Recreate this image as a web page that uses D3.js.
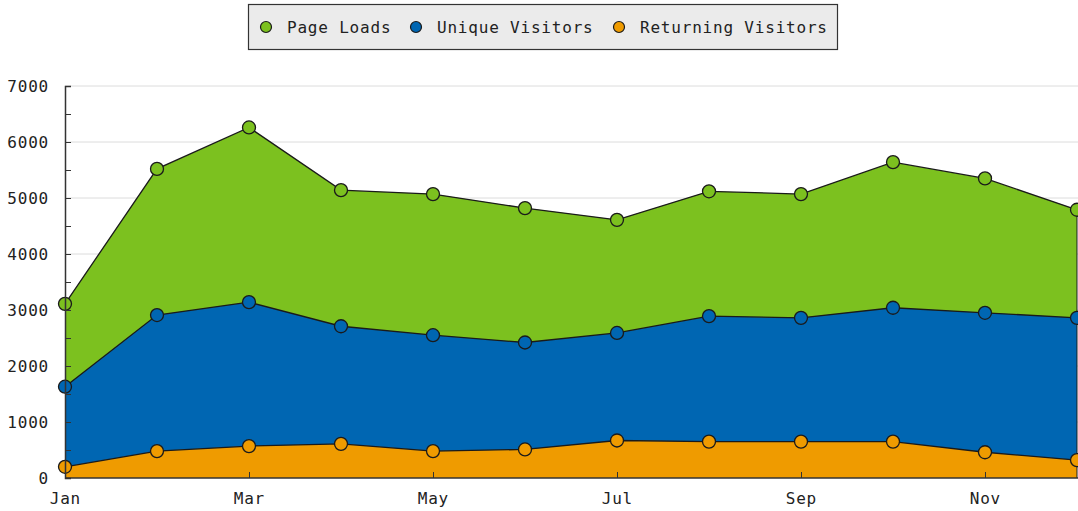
<!DOCTYPE html>
<html>
<head>
<meta charset="utf-8">
<script src="https://cdn.jsdelivr.net/npm/d3@7"></script>
<style>
  body { margin: 0; background: #fff; }
  svg { display: block; }
  text { font-family: "DejaVu Sans Mono", monospace; fill: #222; font-size: 16px; letter-spacing: 0.8px; }
</style>
</head>
<body>
<svg id="chart" width="1078" height="511"></svg>
<script>
const months = ['Jan', 'Feb', 'Mar', 'Apr', 'May', 'Jun', 'Jul', 'Aug', 'Sep', 'Oct', 'Nov', 'Dec'];
const pageLoads = [3110, 5520, 6260, 5140, 5070, 4820, 4610, 5120, 5070, 5640, 5350, 4790];
const uniqueVisitors = [1630, 2910, 3140, 2710, 2550, 2420, 2590, 2890, 2860, 3040, 2950, 2860];
const returningVisitors = [200, 480, 570, 610, 480, 510, 670, 650, 650, 650, 460, 320];
const yTicks = [0, 1000, 2000, 3000, 4000, 5000, 6000, 7000];
const xTickLabels = ['Jan', 'Mar', 'May', 'Jul', 'Sep', 'Nov'];

const series = [
    { name: 'Page Loads', values: pageLoads, color: '#7cc11f' },
    { name: 'Unique Visitors', values: uniqueVisitors, color: '#0066b2' },
    { name: 'Returning Visitors', values: returningVisitors, color: '#ef9b00' },
];

const svg = d3.select('#chart');
const plotLeft = 65, plotRight = 1077, plotTop = 86, plotBottom = 478;

const x = d3.scalePoint().domain(months).range([plotLeft, plotRight]);
const y = d3.scaleLinear().domain([0, 7000]).range([plotBottom, plotTop]);

// grid
svg.append('g')
    .selectAll('line')
    .data(yTicks.slice(1))
    .join('line')
    .attr('x1', plotLeft).attr('x2', 1078)
    .attr('y1', d => y(d)).attr('y2', d => y(d))
    .attr('stroke', '#dcdcdc')
    .attr('stroke-width', 1);

// areas
const area = d3.area()
    .x((d, i) => x(months[i]))
    .y0(y(0))
    .y1(d => y(d));

const line = d3.line()
    .x((d, i) => x(months[i]))
    .y(d => y(d));

series.forEach(s => {
    svg.append('path')
        .datum(s.values)
        .attr('d', area)
        .attr('fill', s.color);
    svg.append('path')
        .datum(s.values)
        .attr('d', line)
        .attr('fill', 'none')
        .attr('stroke', '#1a1a1a')
        .attr('stroke-width', 1.3);
});

// right edge outline
svg.append('line')
    .attr('x1', plotRight).attr('x2', plotRight)
    .attr('y1', y(pageLoads[pageLoads.length - 1])).attr('y2', plotBottom)
    .attr('stroke', '#1a1a1a');

// markers
series.forEach(s => {
    svg.append('g')
        .selectAll('circle')
        .data(s.values)
        .join('circle')
        .attr('cx', (d, i) => x(months[i]))
        .attr('cy', d => y(d))
        .attr('r', 6.5)
        .attr('fill', s.color)
        .attr('stroke', '#1a1a1a')
        .attr('stroke-width', 1.3);
});

// y axis
const yAxis = d3.axisRight(y)
    .tickValues(d3.range(0, 7001, 500))
    .tickSize(6)
    .tickFormat('');
const yg = svg.append('g').attr('transform', `translate(${plotLeft},0)`).call(yAxis);
yg.select('.domain').attr('stroke', '#333').attr('stroke-width', 1.5);
yg.selectAll('.tick line').attr('stroke', '#333');

svg.append('g')
    .selectAll('text')
    .data(yTicks)
    .join('text')
    .attr('x', 49)
    .attr('y', d => y(d) + 6)
    .attr('text-anchor', 'end')
    .text(d => d);

// x axis
const xAxis = d3.axisTop(x)
    .tickValues(xTickLabels)
    .tickSize(6)
    .tickFormat('');
const xg = svg.append('g').attr('transform', `translate(0,${plotBottom})`).call(xAxis);
xg.select('.domain').attr('d', `M${plotLeft},0H1078`).attr('stroke', '#333').attr('stroke-width', 1.5);
xg.selectAll('.tick line').attr('stroke', '#333');

svg.append('g')
    .selectAll('text')
    .data(xTickLabels)
    .join('text')
    .attr('x', d => x(d) + 0.4)
    .attr('y', 504)
    .attr('text-anchor', 'middle')
    .text(d => d);

// legend
const legend = svg.append('g');
legend.append('rect')
    .attr('x', 248.5).attr('y', 4.5)
    .attr('width', 589).attr('height', 45)
    .attr('fill', '#ebebeb')
    .attr('stroke', '#333')
    .attr('stroke-width', 1.2);

const legendX = [266, 416, 619];
series.forEach((s, i) => {
    const g = legend.append('g').attr('transform', `translate(${legendX[i]},27)`);
    g.append('circle')
        .attr('r', 5.5)
        .attr('fill', s.color)
        .attr('stroke', '#1a1a1a')
        .attr('stroke-width', 1.2);
    g.append('text')
        .attr('x', 21)
        .attr('y', 6)
        .text(s.name);
});
</script>
</body>
</html>
